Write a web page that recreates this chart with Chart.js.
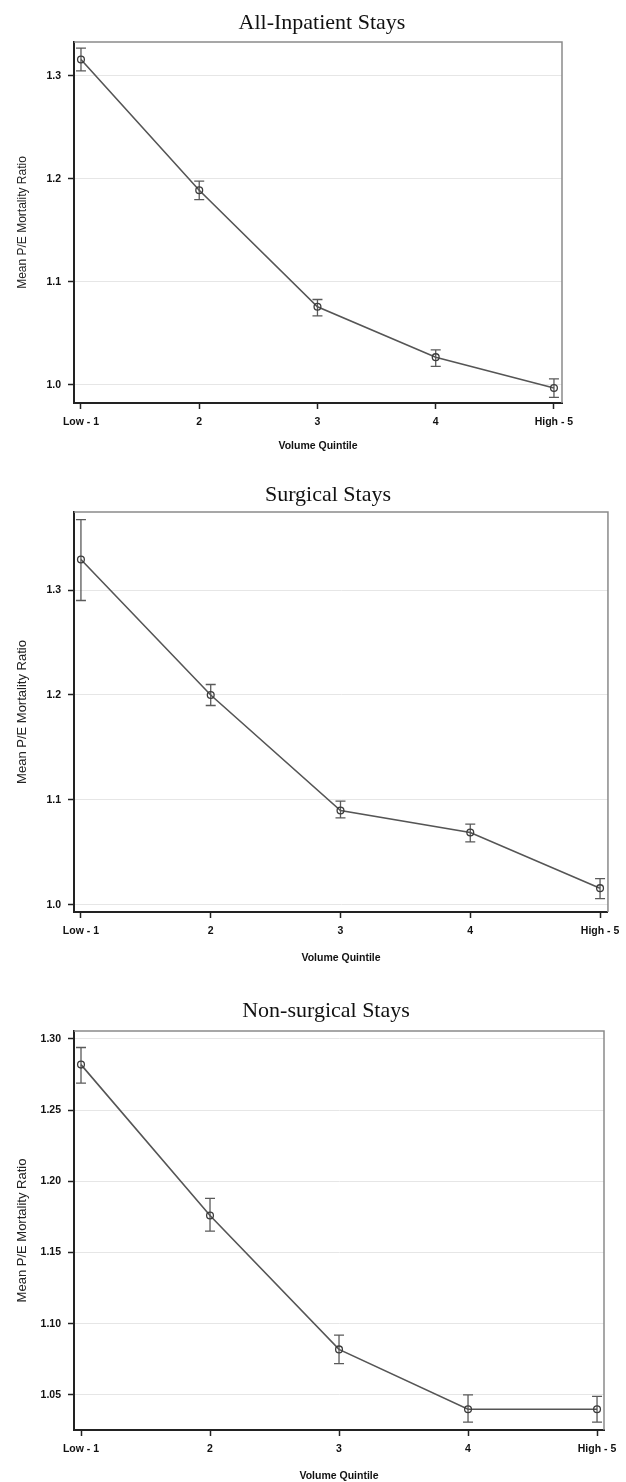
<!DOCTYPE html>
<html>
<head>
<meta charset="utf-8">
<title>Mean P/E Mortality Ratio by Volume Quintile</title>
<script src="https://cdn.jsdelivr.net/npm/chart.js@4.4.0/dist/chart.umd.min.js"></script>
<style>
  html, body { margin: 0; padding: 0; background: #fff; }
  #page { position: relative; width: 626px; height: 1482px; overflow: hidden; }
  .panel { position: absolute; left: 0; }
  .title {
    position: absolute; width: 400px; text-align: center;
    font-family: "Liberation Serif", "Times New Roman", serif;
    font-size: 22px; line-height: 22px; color: #111; white-space: nowrap;
  }
</style>
</head>
<body>
<div id="page">
  <canvas id="chartAll" class="panel" style="top:0px" width="626" height="455"></canvas>
  <canvas id="chartSurgical" class="panel" style="top:455px" width="626" height="510"></canvas>
  <canvas id="chartNonSurgical" class="panel" style="top:965px" width="626" height="517"></canvas>
  <div class="title" style="left:122px; top:11px;">All-Inpatient Stays</div>
  <div class="title" style="left:128px; top:483px;">Surgical Stays</div>
  <div class="title" style="left:126px; top:999px;">Non-surgical Stays</div>
</div>
<script>
// x categories
var quintiles = [1, 2, 3, 4, 5];
var quintileLabels = ["Low - 1", "2", "3", "4", "High - 5"];

// All-inpatient stays
var allMean = [1.316, 1.189, 1.076, 1.027, 0.997];
var allLower = [1.305, 1.180, 1.067, 1.018, 0.988];
var allUpper = [1.327, 1.198, 1.083, 1.034, 1.006];
var allTicks = [1.0, 1.1, 1.2, 1.3];

// Surgical stays
var surgMean = [1.329, 1.200, 1.090, 1.069, 1.016];
var surgLower = [1.290, 1.190, 1.083, 1.060, 1.006];
var surgUpper = [1.367, 1.210, 1.099, 1.077, 1.025];
var surgTicks = [1.0, 1.1, 1.2, 1.3];

// Non-surgical stays
var nonSurgMean = [1.282, 1.176, 1.082, 1.040, 1.040];
var nonSurgLower = [1.269, 1.165, 1.072, 1.031, 1.031];
var nonSurgUpper = [1.294, 1.188, 1.092, 1.050, 1.049];
var nonSurgTicks = [1.05, 1.10, 1.15, 1.20, 1.25, 1.30];

var axisFont = { family: "'Liberation Sans', Arial, sans-serif", size: 10.5, weight: "bold" };

// vertical error bars with caps, drawn from dataset errLow / errHigh
var errorBars = {
  id: "errorBars",
  beforeDatasetsDraw: function (chart) {
    var ctx = chart.ctx;
    var xScale = chart.scales.x;
    var yScale = chart.scales.y;
    var ds = chart.data.datasets[0];
    ctx.save();
    ctx.strokeStyle = "#5a5a5a";
    ctx.lineWidth = 1.3;
    for (var i = 0; i < ds.data.length; i++) {
      var px = xScale.getPixelForValue(ds.data[i].x);
      var top = yScale.getPixelForValue(ds.errHigh[i]);
      var bottom = yScale.getPixelForValue(ds.errLow[i]);
      ctx.beginPath();
      ctx.moveTo(px, top);
      ctx.lineTo(px, bottom);
      ctx.moveTo(px - 5, top);
      ctx.lineTo(px + 5, top);
      ctx.moveTo(px - 5, bottom);
      ctx.lineTo(px + 5, bottom);
      ctx.stroke();
    }
    ctx.restore();
  }
};

// light top and right edges of the plot box
var frame = {
  id: "frame",
  afterDraw: function (chart) {
    var a = chart.chartArea;
    var ctx = chart.ctx;
    ctx.save();
    ctx.strokeStyle = "#8a8a8a";
    ctx.lineWidth = 1.5;
    ctx.beginPath();
    ctx.moveTo(a.left, a.top);
    ctx.lineTo(a.right, a.top);
    ctx.lineTo(a.right, a.bottom);
    ctx.stroke();
    ctx.restore();
  }
};

function makeChart(canvasId, mean, lower, upper, yTicks, cfg) {
  var ctx = document.getElementById(canvasId).getContext("2d");

  return new Chart(ctx, {
    type: "line",
    data: {
      datasets: [
        {
          data: quintiles.map(function (q, i) { return { x: q, y: mean[i] }; }),
          errLow: lower,
          errHigh: upper,
          borderColor: "#555",
          borderWidth: 1.6,
          tension: 0,
          pointRadius: 3.4,
          pointBorderWidth: 1.3,
          pointBorderColor: "#3c3c3c",
          pointBackgroundColor: "rgba(255,255,255,0)",
        },
      ],
    },
    options: {
      responsive: false,
      animation: false,
      events: [],
      layout: { padding: { top: cfg.top, right: cfg.right, left: 0, bottom: 0 } },
      plugins: {
        legend: { display: false },
        tooltip: { enabled: false },
        title: { display: false },
      },
      scales: {
        x: {
          type: "linear",
          min: cfg.xMin,
          max: cfg.xMax,
          afterBuildTicks: function (scale) {
            scale.ticks = quintiles.map(function (q) { return { value: q }; });
          },
          afterFit: function (scale) { scale.height = cfg.xHeight; },
          grid: { drawOnChartArea: false, tickColor: "#222", tickLength: 6, tickWidth: 1.5 },
          border: { color: "#222", width: 2 },
          ticks: {
            autoSkip: false,
            maxRotation: 0,
            padding: 6.5,
            color: "#111",
            font: axisFont,
            callback: function (value, index) { return quintileLabels[index]; },
          },
          title: {
            display: true,
            text: "Volume Quintile",
            color: "#111",
            font: axisFont,
            padding: { top: 0, bottom: cfg.xTitlePad },
          },
        },
        y: {
          type: "linear",
          min: cfg.yMin,
          max: cfg.yMax,
          afterBuildTicks: function (scale) {
            scale.ticks = yTicks.map(function (v) { return { value: v }; });
          },
          afterFit: function (scale) { scale.width = 74; },
          grid: { color: "#e6e6e6", lineWidth: 1, tickColor: "#222", tickLength: 6, tickWidth: 1.5 },
          border: { color: "#222", width: 2 },
          ticks: {
            padding: 7,
            color: "#111",
            font: axisFont,
            callback: function (value) { return value.toFixed(cfg.digits); },
          },
          title: {
            display: true,
            text: "Mean P/E Mortality Ratio",
            color: "#222",
            font: { family: "'Liberation Sans', Arial, sans-serif", size: cfg.yTitleSize },
            padding: { top: 15, bottom: 0 },
          },
        },
      },
    },
    plugins: [errorBars, frame],
  });
}

makeChart("chartAll", allMean, allLower, allUpper, allTicks, {
  top: 42, right: 64, xHeight: 52, xTitlePad: 3,
  xMin: 0.941, xMax: 5.068, yMin: 0.9825, yMax: 1.333, digits: 1, yTitleSize: 12
});

makeChart("chartSurgical", surgMean, surgLower, surgUpper, surgTicks, {
  top: 57, right: 14, xHeight: 53, xTitlePad: 1,
  xMin: 0.9465, xMax: 5.061, yMin: 0.9933, yMax: 1.3743, digits: 1, yTitleSize: 13
});

makeChart("chartNonSurgical", nonSurgMean, nonSurgLower, nonSurgUpper, nonSurgTicks, {
  top: 66, right: 22, xHeight: 52, xTitlePad: 0,
  xMin: 0.9457, xMax: 5.054, yMin: 1.0254, yMax: 1.3056, digits: 2, yTitleSize: 13
});
</script>
</body>
</html>
